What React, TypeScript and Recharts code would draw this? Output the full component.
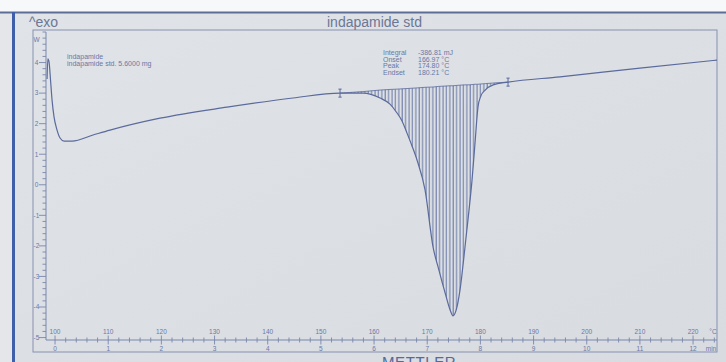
import React from 'react';
import { ComposedChart, Line, Area, XAxis, YAxis, Scatter } from 'recharts';

// Temperature (°C) of each read point of the DSC curve
const temperatureC = [
  98.5, 98.65, 98.87, 99.15, 99.44, 99.81, 100.38, 100.94, 101.69, 103.2,
  107.15, 110.34, 119.75, 132.35, 144.76, 153.6, 157.93, 161.13, 163.0, 164.32,
  165.26, 166.2, 167.14, 168.08, 169.59, 171.09, 172.2, 173.35, 174.29, 174.85,
  175.41, 176.17, 177.11, 177.86, 178.43, 178.99, 179.55, 180.1, 180.9, 182.4,
  185.2, 194.98, 210.0, 224.5,
];
// Heat flow signal (W axis units)
const heatFlow = [
  3.46, 4.12, 4.02, 3.43, 2.77, 2.22, 1.79, 1.53, 1.43, 1.43,
  1.63, 1.79, 2.18, 2.54, 2.84, 3.0, 3.0, 2.84, 2.64, 2.35,
  2.09, 1.69, 1.27, 0.81, -0.17, -2.03, -2.79, -3.53, -4.09, -4.29,
  -4.12, -3.44, -2.03, -0.83, 0.16, 1.37, 2.55, 2.91, 3.1, 3.27,
  3.36, 3.53, 3.82, 4.08,
];
// Integration baseline (top edge of the hatched peak area), null outside limits
const integrationBaseline: (number | null)[] = [
  null, null, null, null, null, null, null, null, null, null,
  null, null, null, null, null, 3.0, 3.05, 3.1, 3.12, 3.13,
  3.14, 3.15, 3.16, 3.17, 3.19, 3.2, 3.22, 3.23, 3.24, 3.24,
  3.25, 3.26, 3.27, 3.27, 3.28, 3.29, 3.29, 3.3, 3.31, 3.33,
  3.36, null, null, null,
];
// Integration limit markers
const limitTemps = [153.6, 185.2];
const limitValues = [3.0, 3.36];

const tempLabels = [100, 110, 120, 130, 140, 150, 160, 170, 180, 190, 200, 210, 220];
const timeLabels = ['0', '1', '2', '3', '4', '5', '6', '7', '8', '9', '10', '11', '12'];
const yLabels = [-5, -4, -3, -2, -1, 0, 1, 2, 3, 4];

const resultNames = ['Integral', 'Onset', 'Peak', 'Endset'];
const resultValues = ['-386.81 mJ', '166.97 °C', '174.80 °C', '180.21 °C'];

const chartData = temperatureC.map((T, i) => ({
  T,
  hf: heatFlow[i],
  base: integrationBaseline[i],
}));
const limitData = limitTemps.map((T, i) => ({ T, v: limitValues[i] }));

const xTicks: number[] = [];
for (let k = 50; k <= 112; k++) xTicks.push(k * 2);
const yTicks: number[] = [];
for (let k = -25; k <= 25; k++) yTicks.push(Math.round(k * 2) / 10);

const INK = '#5a6a9c';
const AXIS = '#7a87ad';
const TXT = '#6a78a6';
const FONT = '"Liberation Sans", Arial, sans-serif';

const XTick = (props: any) => {
  const { x, y, payload } = props;
  const v = Math.round(payload.value);
  const idx = tempLabels.indexOf(v);
  const major = idx >= 0;
  const h = major ? 4.5 : 2.5;
  return (
    <g>
      <line x1={x} x2={x} y1={y - h} y2={y + h} stroke={AXIS} strokeWidth={0.9} />
      {major && (
        <text x={x} y={y - 6} textAnchor="middle" fontSize={6.5} fill={TXT} fontFamily={FONT}>
          {v}
        </text>
      )}
      {major && (
        <text x={x} y={y + 11} textAnchor="middle" fontSize={6.5} fill={TXT} fontFamily={FONT}>
          {timeLabels[idx]}
        </text>
      )}
    </g>
  );
};

const YTick = (props: any) => {
  const { x, y, payload } = props;
  const v = payload.value;
  const major = yLabels.includes(v);
  return (
    <g>
      <line x1={x - (major ? 7 : 3.5)} x2={x} y1={y} y2={y} stroke={AXIS} strokeWidth={0.9} />
      {major && (
        <text x={x - 9.5} y={y + 2.3} textAnchor="middle" fontSize={6.5} fill={TXT} fontFamily={FONT}>
          {v}
        </text>
      )}
    </g>
  );
};

const LimitMark = (props: any) => {
  const { cx, cy } = props;
  return (
    <g stroke={INK} strokeWidth={1}>
      <line x1={cx} x2={cx} y1={cy - 4} y2={cy + 4} />
      <line x1={cx - 1.6} x2={cx + 1.6} y1={cy - 4} y2={cy - 4} />
      <line x1={cx - 1.6} x2={cx + 1.6} y1={cy + 4} y2={cy + 4} />
    </g>
  );
};

export default function App() {
  return (
    <div style={{ position: 'absolute', left: 0, top: 0, width: 726, height: 362, overflow: 'hidden', background: '#dcdfe3' }}>
      {/* paper and frame */}
      <svg width={726} height={362} style={{ position: 'absolute', left: 0, top: 0 }}>
        <defs>
          <pattern id="hatch" width={3.4} height={6} patternUnits="userSpaceOnUse">
            <line x1={1} x2={1} y1={0} y2={6} stroke={INK} strokeWidth={0.9} />
          </pattern>
          <linearGradient id="paper" x1="0" y1="0" x2="1" y2="1">
            <stop offset="0" stopColor="#e0e3e7" />
            <stop offset="1" stopColor="#d8dbe0" />
          </linearGradient>
        </defs>
        <rect x={0} y={0} width={726} height={362} fill="url(#paper)" />
        <rect x={0} y={0} width={726} height={12} fill="#f7f8f9" />
        <rect x={0} y={12} width={12} height={350} fill="#e4e6e9" />
        <rect x={0} y={11.5} width={726} height={2} fill="#5d6e96" />
        <rect x={12} y={12} width={3} height={350} fill="#3f5fa9" />
        <rect x={33} y={30} width={684} height={322} fill="none" stroke="#8791b2" strokeWidth={1} />
      </svg>
      <div style={{ position: 'absolute', left: 0, top: 0 }}>
        <ComposedChart
          width={726}
          height={362}
          data={chartData}
          margin={{ top: 32, right: 9, bottom: 0, left: 33 }}
        >
          <XAxis
            type="number"
            dataKey="T"
            domain={[98.3, 224.5]}
            ticks={xTicks}
            interval={0}
            allowDataOverflow
            height={22}
            tickSize={0}
            tickMargin={0}
            tickLine={false}
            tick={<XTick />}
            axisLine={{ stroke: AXIS, strokeWidth: 1 }}
          />
          <YAxis
            type="number"
            domain={[-5.08, 5]}
            ticks={yTicks}
            interval={0}
            allowDataOverflow
            width={13}
            tickSize={0}
            tickMargin={0}
            tickLine={false}
            tick={<YTick />}
            axisLine={{ stroke: AXIS, strokeWidth: 1 }}
          />
          <Area
            type="monotone"
            dataKey={(d: any) => (d.base == null ? null : [d.hf, d.base])}
            stroke="none"
            fill="url(#hatch)"
            fillOpacity={1}
            isAnimationActive={false}
          />
          <Line
            type="linear"
            dataKey="base"
            stroke={INK}
            strokeWidth={0.8}
            dot={false}
            isAnimationActive={false}
          />
          <Line
            type="monotone"
            dataKey="hf"
            stroke={INK}
            strokeWidth={1.2}
            dot={false}
            isAnimationActive={false}
          />
          <Scatter data={limitData} dataKey="v" shape={<LimitMark />} isAnimationActive={false} />
        </ComposedChart>
      </div>
      {/* texts */}
      <svg width={726} height={362} style={{ position: 'absolute', left: 0, top: 0, pointerEvents: 'none' }} fontFamily={FONT}>
        <text x={29} y={27} fontSize={14} fill="#6b7796">^exo</text>
        <text x={327} y={27} fontSize={14} fill="#6b7796">indapamide std</text>
        <text x={36.5} y={42} fontSize={6.5} fill={TXT} textAnchor="middle">W</text>
        <text x={67} y={58.5} fontSize={7} fill={TXT}>indapamide</text>
        <text x={67} y={66} fontSize={7} fill={TXT}>indapamide std. 5.6000 mg</text>
        {resultNames.map((n, i) => (
          <g key={n}>
            <text x={383} y={55 + i * 6.5} fontSize={7} fill={TXT}>{n}</text>
            <text x={418} y={55 + i * 6.5} fontSize={7} fill={TXT}>{resultValues[i]}</text>
          </g>
        ))}
        <text x={713} y={334} fontSize={6.5} fill={TXT} textAnchor="middle">°C</text>
        <text x={711} y={351} fontSize={6.5} fill={TXT} textAnchor="middle">min</text>
        <text x={382} y={367} fontSize={15} fill="#56699a" letterSpacing={0.6}>METTLER</text>
      </svg>
    </div>
  );
}
